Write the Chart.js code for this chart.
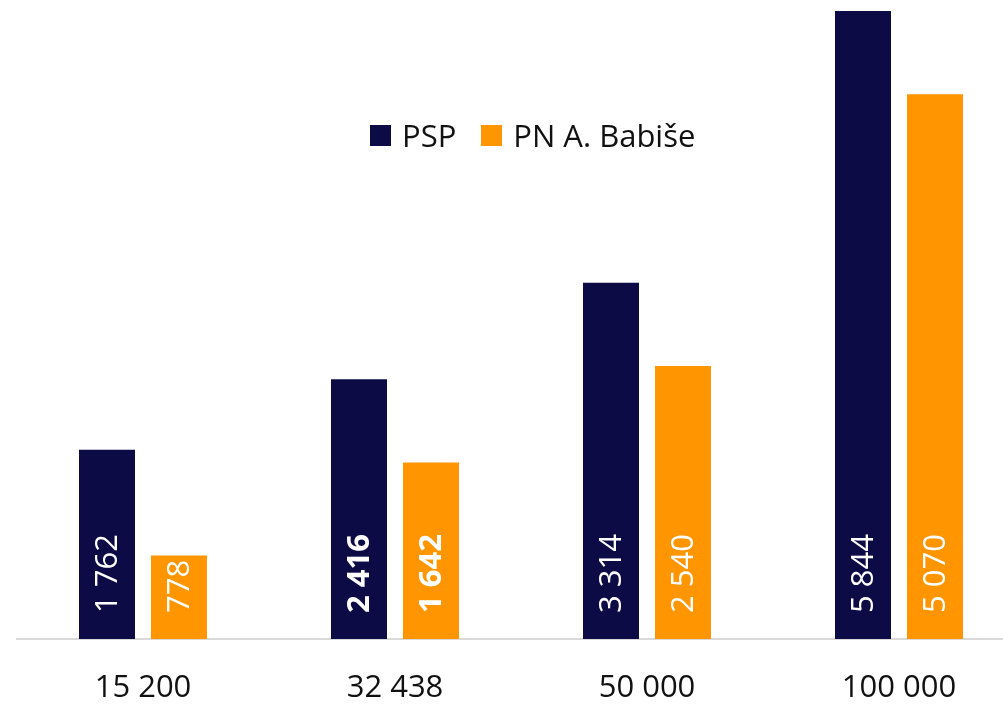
<!DOCTYPE html>
<html>
<head>
<meta charset="utf-8">
<script src="https://cdn.jsdelivr.net/npm/chart.js@4/dist/chart.umd.min.js"></script>
<style>
  html, body { margin: 0; padding: 0; background: #fff; overflow: hidden; }
  #wrap { position: relative; width: 1003px; height: 704px; overflow: hidden; }
  #box { position: absolute; left: 0; top: 0; width: 1025px; height: 704px; }
  #legend { position: absolute; left: 370px; top: 114px; display: flex; align-items: center;
            font-family: "Open Sans", sans-serif; font-size: 31px; color: #111; line-height: normal; }
  #legend .item { display: flex; align-items: center; margin-right: 25px; }
  #legend .sw { width: 21px; height: 21px; margin-right: 11px; }
</style>
</head>
<body>
<div id="wrap">
  <div id="box"><canvas id="c" width="1025" height="704"></canvas></div>
  <div id="legend"></div>
</div>
<script>
const categories = ["15 200", "32 438", "50 000", "100 000"];
const seriesNames = ["PSP", "PN A. Babiše"];
const pspValues = [1762, 2416, 3314, 5844];
const babisValues = [778, 1642, 2540, 5070];
const valueLabelsPsp = ["1 762", "2 416", "3 314", "5 844"];
const valueLabelsBabis = ["778", "1 642", "2 540", "5 070"];
const boldCategories = ["32 438"];

const colors = ["#0D0B45", "#FF9500"];

const labelPlugin = {
  id: 'valLabels',
  afterDatasetsDraw(chart) {
    const ctx = chart.ctx;
    const lists = [valueLabelsPsp, valueLabelsBabis];
    chart.data.datasets.forEach((ds, di) => {
      const meta = chart.getDatasetMeta(di);
      meta.data.forEach((bar, i) => {
        const bold = boldCategories.includes(chart.data.labels[i]);
        ctx.save();
        ctx.translate(bar.x, bar.base - 26);
        ctx.rotate(-Math.PI / 2);
        ctx.fillStyle = "#ffffff";
        ctx.font = (bold ? "bold " : "") + "31px 'Open Sans', sans-serif";
        ctx.textAlign = "left";
        ctx.textBaseline = "middle";
        ctx.fillText(lists[di][i], 0, 1);
        ctx.restore();
      });
    });
  }
};

new Chart(document.getElementById('c'), {
  type: 'bar',
  data: {
    labels: categories,
    datasets: [
      { label: seriesNames[0], data: pspValues, backgroundColor: colors[0] },
      { label: seriesNames[1], data: babisValues, backgroundColor: colors[1] }
    ]
  },
  options: {
    responsive: false,
    animation: false,
    devicePixelRatio: 1,
    layout: { padding: { left: 17, right: 0, top: 0, bottom: 0 } },
    categoryPercentage: 0.5714,
    barPercentage: 0.7778,
    plugins: { legend: { display: false }, tooltip: { enabled: false } },
    scales: {
      x: {
        grid: { display: false, drawTicks: false },
        border: { display: true, color: "#d9d9d9", width: 2 },
        ticks: { color: "#111", padding: 31, font: { family: "'Open Sans', sans-serif", size: 31 } },
        afterFit(scale) { scale.height = 65; }
      },
      y: { display: false, min: 0, max: 5946 }
    }
  },
  plugins: [labelPlugin]
});

const leg = document.getElementById('legend');
seriesNames.forEach((n, i) => {
  const it = document.createElement('div');
  it.className = 'item';
  const sw = document.createElement('div');
  sw.className = 'sw';
  sw.style.background = colors[i];
  const t = document.createElement('span');
  t.textContent = n;
  it.appendChild(sw); it.appendChild(t);
  leg.appendChild(it);
});
</script>
</body>
</html>
